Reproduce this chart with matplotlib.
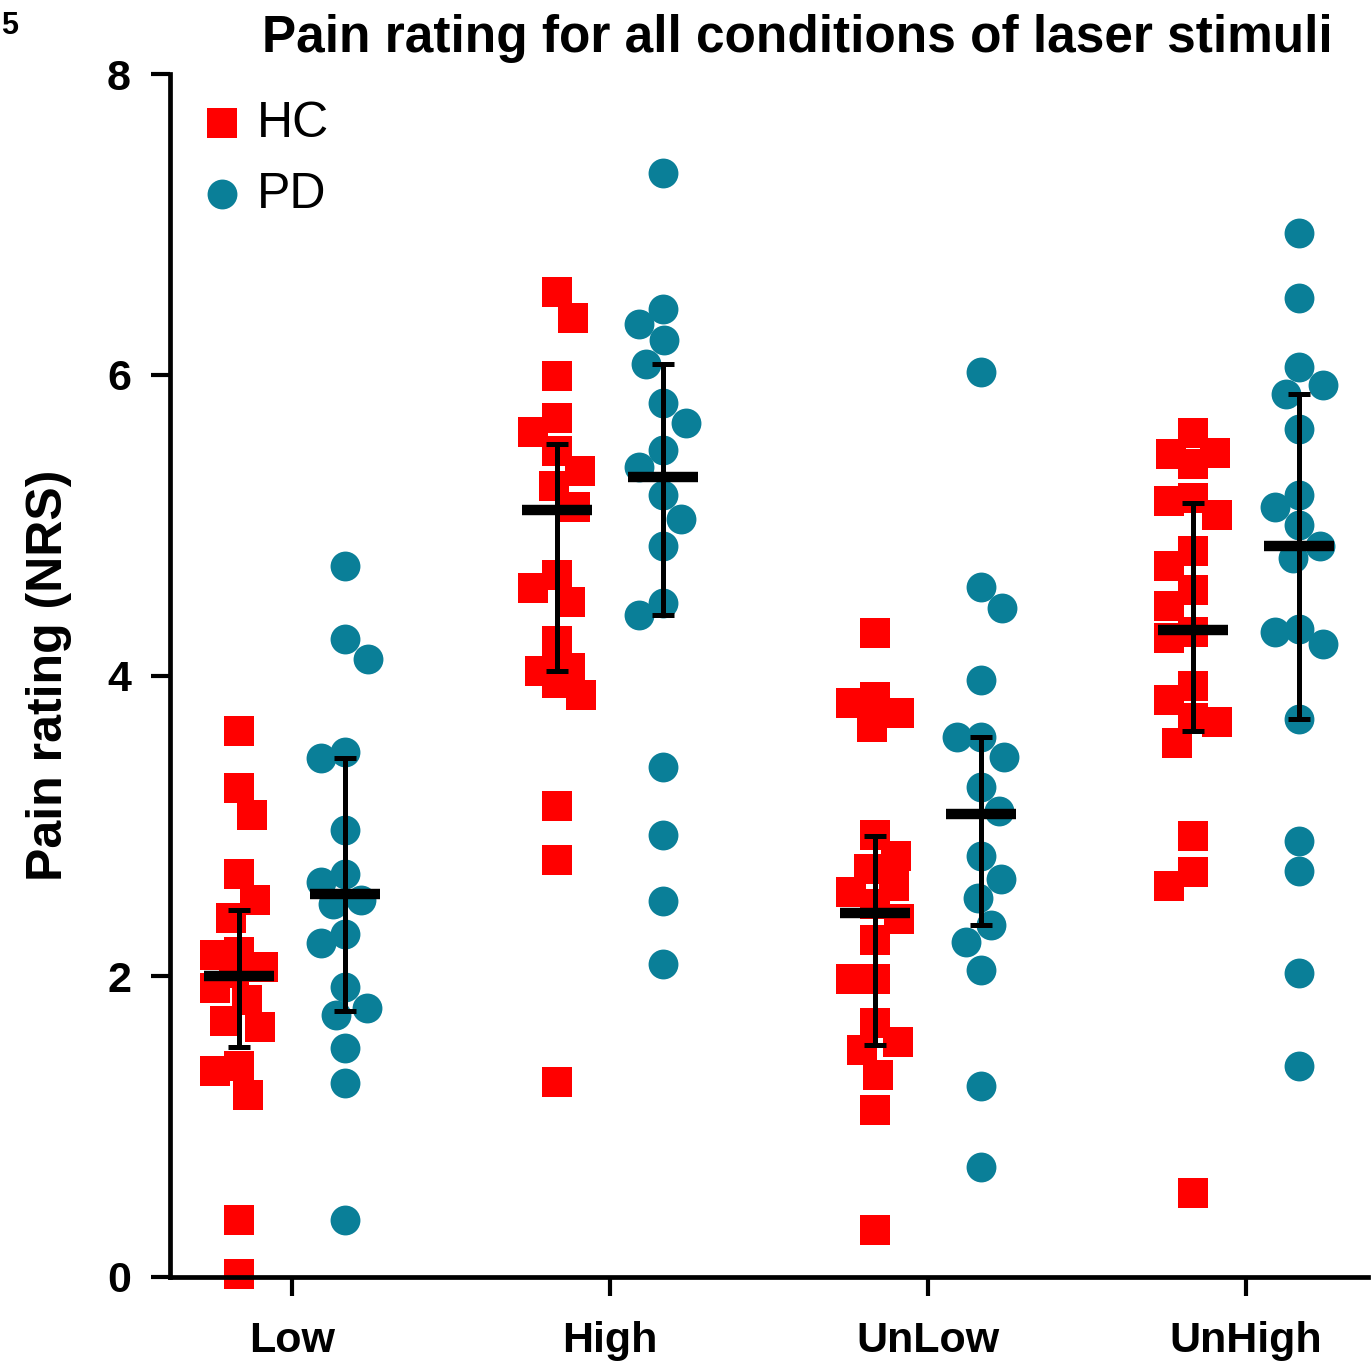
import numpy as np
import matplotlib
matplotlib.use("Agg")
import matplotlib.pyplot as plt

plt.rcParams['font.family'] = ['Liberation Sans', 'DejaVu Sans']

conditions = ["Low", "High", "UnLow", "UnHigh"]
groups = ["HC", "PD"]

# individual ratings
hc_low = [3.63, 3.25, 3.07, 2.68, 2.51, 2.39, 2.16, 2.14, 2.06, 2.02, 1.92, 1.84,
          1.70, 1.66, 1.40, 1.37, 1.21, 0.38, 0.02]
pd_low = [4.73, 4.24, 4.11, 3.49, 3.45, 2.97, 2.68, 2.63, 2.51, 2.48, 2.28, 2.22,
          1.93, 1.79, 1.74, 1.52, 1.29, 0.38]
hc_high = [6.55, 6.38, 5.99, 5.71, 5.62, 5.49, 5.36, 5.26, 5.12, 4.67, 4.58, 4.49,
           4.23, 4.05, 4.03, 3.95, 3.87, 3.13, 2.77, 1.30]
pd_high = [7.34, 6.44, 6.34, 6.23, 6.07, 5.81, 5.68, 5.50, 5.39, 5.20, 5.04, 4.86,
           4.48, 4.40, 3.39, 2.94, 2.50, 2.08]
hc_unlow = [4.28, 3.86, 3.82, 3.75, 3.66, 2.94, 2.80, 2.71, 2.60, 2.56, 2.48, 2.38,
            2.24, 1.98, 1.98, 1.69, 1.56, 1.51, 1.34, 1.11, 0.31]
pd_unlow = [6.02, 4.59, 4.45, 3.97, 3.59, 3.59, 3.46, 3.26, 3.10, 2.80, 2.65, 2.52,
            2.34, 2.23, 2.04, 1.27, 0.73]
hc_unhigh = [5.61, 5.48, 5.47, 5.41, 5.18, 5.16, 5.07, 4.83, 4.73, 4.57, 4.46, 4.29,
             4.25, 3.93, 3.84, 3.72, 3.69, 3.55, 2.93, 2.69, 2.60, 0.56]
pd_unhigh = [6.94, 6.51, 6.05, 5.93, 5.87, 5.64, 5.20, 5.12, 5.00, 4.86, 4.78, 4.31,
             4.29, 4.21, 3.71, 2.90, 2.70, 2.02, 1.40]

# median with interquartile range
hc_center = [2.00, 5.10, 2.42, 4.30]
hc_lower = [1.53, 4.03, 1.54, 3.63]
hc_upper = [2.44, 5.54, 2.93, 5.15]
pd_center = [2.55, 5.32, 3.08, 4.86]
pd_lower = [1.77, 4.40, 2.34, 3.71]
pd_upper = [3.45, 6.07, 3.59, 5.87]

yticks = [0, 2, 4, 6, 8]

hc_color = '#FF0000'
pd_color = '#0A7F98'


def swarm_offsets(values, ax, d, max_off):
    # simple beeswarm in pixel space, returns x offsets in data units
    px_y = ax.transData.transform(np.column_stack([np.zeros(len(values)), values]))[:, 1]
    x0 = ax.transData.transform((0, 0))[0]
    x1 = ax.transData.transform((1, 0))[0]
    per_unit = x1 - x0
    grid = list(np.linspace(-max_off, max_off, 9))
    placed = []
    out = []
    for y in px_y:
        cands = [0.0]
        for px, py in placed:
            dy = abs(y - py)
            if dy < d:
                dx = np.sqrt(d * d - dy * dy)
                cands += [px + dx, px - dx]
        cands = [c for c in cands if abs(c) <= max_off] + grid
        cands.sort(key=abs)
        # fall back to the least crowded spot when nothing is free
        best, best_gap = cands[0], -1
        for c in cands:
            gap = min([np.hypot(c - px, y - py) for px, py in placed] or [d])
            if gap >= d - 1e-6:
                best = c
                break
            if gap > best_gap + 0.5:
                best, best_gap = c, gap
        placed.append((best, y))
        out.append(best / per_unit)
    return np.array(out)


fig = plt.figure(figsize=(13.72, 13.64), dpi=100)
ax = fig.add_axes([0.1239, 0.0638, 0.8732, 0.8819])
ax.set_xlim(-0.385, 3.385)
ax.set_ylim(0, 8)

hc_data = [hc_low, hc_high, hc_unlow, hc_unhigh]
pd_data = [pd_low, pd_high, pd_unlow, pd_unhigh]
shift = 0.167
msize = 21.5 ** 2

for i in range(len(conditions)):
    off = swarm_offsets(hc_data[i], ax, 30, 24)
    ax.scatter(i - shift + off, hc_data[i], s=msize, marker='s', color=hc_color,
               linewidths=0, clip_on=False, zorder=2, label='HC' if i == 0 else None)
    off = swarm_offsets(pd_data[i], ax, 30, 24)
    ax.scatter(i + shift + off, pd_data[i], s=msize, marker='o', color=pd_color,
               linewidths=0, clip_on=False, zorder=2, label='PD' if i == 0 else None)

xs_hc = np.arange(len(conditions)) - shift
xs_pd = np.arange(len(conditions)) + shift
for xs, c, lo, hi in [(xs_hc, hc_center, hc_lower, hc_upper),
                      (xs_pd, pd_center, pd_lower, pd_upper)]:
    c = np.array(c)
    ax.errorbar(xs, c, yerr=[c - np.array(lo), np.array(hi) - c], fmt='none',
                ecolor='black', elinewidth=3.6, capsize=8, capthick=3.6, zorder=3)
    ax.hlines(c, xs - 0.11, xs + 0.11, color='black', lw=7.5, zorder=4)

for side in ['top', 'right']:
    ax.spines[side].set_visible(False)
for side in ['left', 'bottom']:
    ax.spines[side].set_linewidth(3.4)

ax.set_yticks(yticks)
ax.set_xticks(range(len(conditions)))
ax.set_xticklabels(conditions)
ax.tick_params(axis='both', direction='out', length=14, width=3, labelsize=31)
ax.tick_params(axis='y', pad=14)
ax.tick_params(axis='x', pad=18)
for lab in ax.get_xticklabels() + ax.get_yticklabels():
    lab.set_fontweight('bold')

ax.set_ylabel('Pain rating (NRS)', fontsize=36, fontweight='bold')
ax.yaxis.set_label_coords(-0.082, 0.5)

fig.text(0.5813, 0.972, 'Pain rating for all conditions of laser stimuli',
         fontsize=37, fontweight='bold', ha='center', va='center')
fig.text(0.001, 0.992, '5', fontsize=22, fontweight='bold', ha='left', va='top')

leg = ax.legend(loc='upper left', bbox_to_anchor=(0.027, 0.978), frameon=False,
                fontsize=36, handlelength=0.8, handletextpad=0.3, labelspacing=0.5,
                borderaxespad=0, borderpad=0, scatterpoints=1)

fig.savefig('out.png', dpi=100)
